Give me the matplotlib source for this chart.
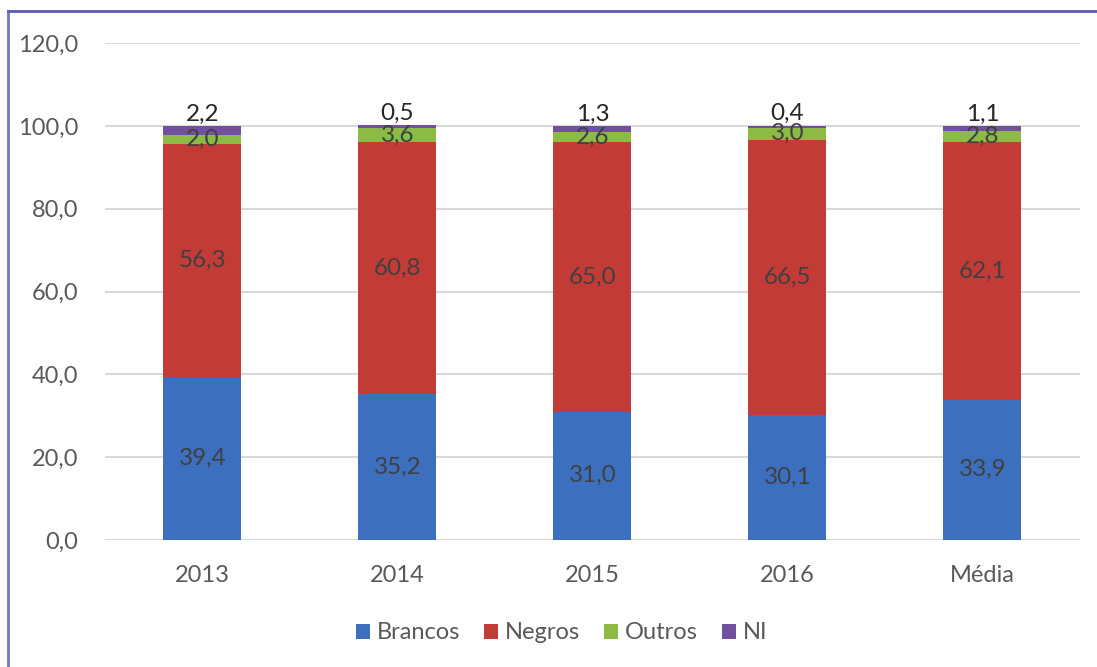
import matplotlib
matplotlib.use('Agg')
import matplotlib.pyplot as plt
from matplotlib.lines import Line2D
import numpy as np

# Dados (percentuais por raça/cor)
categorias = ['2013', '2014', '2015', '2016', 'Média']
brancos = [39.4, 35.2, 31.0, 30.1, 33.9]
negros = [56.3, 60.8, 65.0, 66.5, 62.1]
outros = [2.0, 3.6, 2.6, 3.0, 2.8]
ni = [2.2, 0.5, 1.3, 0.4, 1.1]

series = [('Brancos', brancos, '#3C70BF'),
          ('Negros', negros, '#C33B36'),
          ('Outros', outros, '#8DBA45'),
          ('NI', ni, '#7150A0')]

plt.rcParams['font.family'] = ['Lato', 'DejaVu Sans']

def fmt(v):
    return f'{v:.1f}'.replace('.', ',')

fig = plt.figure(figsize=(10.97, 6.67), dpi=100)
ax = fig.add_axes([0.0957, 0.1904, 0.8888, 0.7451])

x = np.arange(len(categorias))
base = np.zeros(len(categorias))
for nome, vals, cor in series:
    vals = np.array(vals)
    ax.bar(x, vals, 0.4, bottom=base, color=cor, label=nome, zorder=3)
    for xi, b, v in zip(x, base, vals):
        if nome == 'NI':
            ax.text(xi, b + v + 0.4, fmt(v), ha='center', va='bottom',
                    fontsize=17.5, color='#262626', zorder=4)
        else:
            ax.text(xi, b + v / 2, fmt(v), ha='center', va='center',
                    fontsize=17.5, color='#404040', zorder=4)
    base = base + vals

ax.set_xlim(-0.5, 4.5)
ax.set_ylim(0, 120)
ax.set_yticks(np.arange(0, 121, 20))
ax.set_yticklabels([fmt(v) for v in np.arange(0, 121, 20)])
ax.set_xticks(x)
ax.set_xticklabels(categorias)
ax.tick_params(axis='both', length=0, labelsize=17, labelcolor='#595959')
ax.tick_params(axis='y', pad=19)
ax.tick_params(axis='x', pad=18)
ax.grid(axis='y', color='#d9d9d9', linewidth=1.5, zorder=0)
for s in ax.spines.values():
    s.set_visible(False)

ax.legend(loc='center', bbox_to_anchor=(0.512, 0.051), bbox_transform=fig.transFigure,
          ncol=4, frameon=False, fontsize=17, handlelength=0.6, handleheight=0.6,
          handletextpad=0.3, columnspacing=1.0, labelcolor='#595959')

# moldura
fig.add_artist(Line2D([8 / 1097, 8 / 1097], [0, 1 - 11 / 667], color='#7474c4', linewidth=2))
fig.add_artist(Line2D([8 / 1097, 1], [1 - 11 / 667, 1 - 11 / 667], color='#5a5ab4', linewidth=2))

fig.savefig('out.png', dpi=100)
